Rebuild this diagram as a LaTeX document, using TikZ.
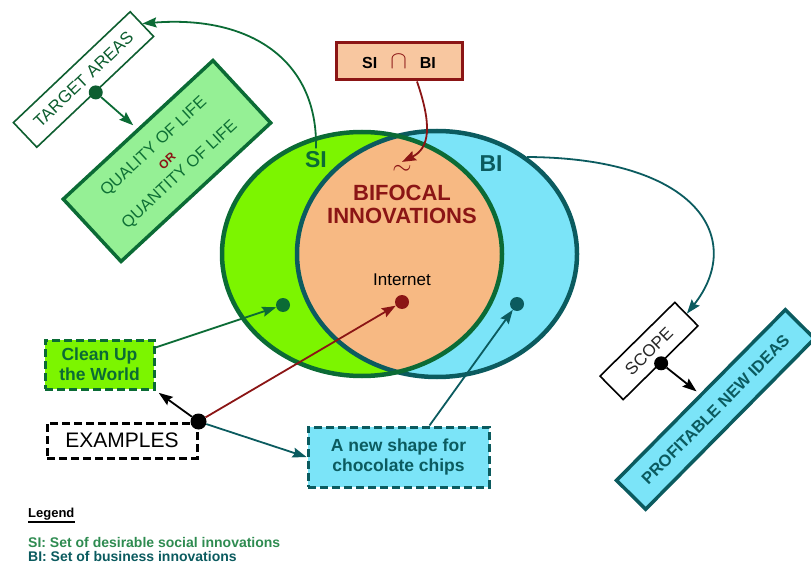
\documentclass[tikz,border=0pt]{standalone}
\usepackage{fontspec}
\setmainfont{Liberation Sans}
\usepackage{xcolor}
\usepackage{tikz}
\usetikzlibrary{shapes}
\usetikzlibrary{arrows,arrows.meta}
\definecolor{sigreen}{HTML}{7CF500}
\definecolor{sidark}{HTML}{0B6B35}
\definecolor{bicyan}{HTML}{7BE4F8}
\definecolor{bidark}{HTML}{0B5B5F}
\definecolor{bifocal}{HTML}{F7B983}
\definecolor{darkred}{HTML}{8B1515}
\definecolor{capfill}{HTML}{F8C7A0}
\definecolor{qualfill}{HTML}{95F095}
\definecolor{qualtext}{HTML}{0E7035}
\definecolor{tagdark}{HTML}{0E5E30}
\definecolor{legsi}{HTML}{2E8B50}
\tikzset{
	set line/.style={line width=4.5pt},
	dot node/.style={circle,inner sep=0pt,minimum size=14pt},
	tag box/.style={draw,fill=white,line width=1.6pt,inner sep=0pt,font=\fontsize{17}{17}\selectfont},
	idea box/.style={line width=3.5pt,inner sep=0pt,align=center},
	example box/.style={line width=3pt,dash pattern=on 8pt off 4pt,inner sep=0pt,align=center,
		font=\bfseries\fontsize{17.5}{20}\selectfont},
	link/.style={->,line width=1.8pt},
	legend font/.style={anchor=base west,inner sep=0pt,font=\bfseries\fontsize{14}{16}\selectfont}
}

\begin{document}
\begin{tikzpicture}[x=1pt,y=-1pt,>={Stealth[length=14pt,width=10pt,inset=2pt]}]
	\useasboundingbox (0,0) rectangle (811,564);
	% the two sets
	\fill[sigreen] (362,254) ellipse [x radius=140pt, y radius=122pt];
	\fill[bicyan] (437,254) ellipse [x radius=140pt, y radius=123pt];
	\begin{scope}
		\clip (362,254) ellipse [x radius=140pt, y radius=122pt];
		\fill[bifocal] (437,254) ellipse [x radius=140pt, y radius=123pt];
	\end{scope}
	\draw[set line,bidark] (437,254) ellipse [x radius=140pt, y radius=123pt];
	\draw[set line,sidark] (362,254) ellipse [x radius=140pt, y radius=122pt];
	\coordinate (bitop) at (527,157);

	\node[text=sidark,font=\bfseries\fontsize{23}{23}\selectfont] (silabel) at (316,160) {SI};
	\node[text=bidark,font=\bfseries\fontsize{23}{23}\selectfont] (bilabel) at (491,164) {BI};
	\node[text=darkred,font=\fontsize{28}{28}\selectfont] (tilde) at (402,170) {$\sim$};
	\node[text=darkred,align=center,font=\bfseries\fontsize{22}{23}\selectfont] (bifocal) at (402,204) {BIFOCAL\\INNOVATIONS};
	\node[anchor=base,font=\fontsize{17}{17}\selectfont] (internet) at (402,285) {Internet};

	\node[dot node,fill=sidark] (sidot) at (283,305) {};
	\node[dot node,fill=darkred] (netdot) at (402,302) {};
	\node[dot node,fill=bidark] (bidot) at (517,304) {};

	\node[draw=darkred,fill=capfill,line width=3pt,minimum width=126pt,minimum height=37pt,inner sep=0pt,
		font=\bfseries\fontsize{16}{16}\selectfont] (capbox) at (399,61.5)
		{SI\hspace{13pt}{\color{darkred}\fontsize{28}{28}\selectfont$\cap$}\hspace{13pt}BI};

	% target areas and scope
	\node[tag box,draw=tagdark,text=tagdark,minimum width=161pt,minimum height=34pt,rotate=43.5] (target) at (83.5,79.5) {TARGET AREAS};
	\node[idea box,draw=sidark,fill=qualfill,text=qualtext,minimum width=204pt,minimum height=85pt,rotate=42.8,
		font=\fontsize{16.5}{19}\selectfont] (quality) at (167,161)
		{QUALITY OF LIFE\\{\color{darkred}\bfseries\fontsize{12}{12}\selectfont OR}\\QUANTITY OF LIFE};
	\node[dot node,fill=tagdark] (targetdot) at (target.south) {};

	\node[tag box,draw=black,text=black!85,minimum width=105pt,minimum height=33pt,rotate=44.6] (scope) at (649,351) {SCOPE};
	\node[idea box,draw=bidark,fill=bicyan,text=bidark,minimum width=240pt,minimum height=41pt,rotate=45.3,
		font=\bfseries\fontsize{16.5}{19}\selectfont] (profit) at (715.5,409.5) {PROFITABLE NEW IDEAS};
	\node[dot node,fill=black] (scopedot) at (scope.south) {};

	% examples
	\node[example box,draw=sidark,fill=sigreen,text=sidark,minimum width=109pt,minimum height=49pt] (clean) at (99.5,364.5) {Clean Up\\the World};
	\node[example box,draw=black,fill=white,font=\fontsize{21}{21}\selectfont,minimum width=150pt,minimum height=35pt] (examples) at (122,440.5) {EXAMPLES};
	\node[example box,draw=bidark,fill=bicyan,text=bidark,minimum width=181pt,minimum height=60pt] (choc) at (398.5,457) {A new shape for\\chocolate chips};
	\node[dot node,fill=black,minimum size=16pt] (exdot) at (examples.north east) {};

	\draw[link,sidark] ([yshift=-9pt]clean.north east) -- (sidot);
	\draw[link,black,shorten >=4pt] (exdot) -- (clean.south east);
	\draw[link,darkred] (exdot) -- (netdot);
	\draw[link,bidark] (exdot) -- (choc.west);
	\draw[link,bidark] ([xshift=31pt]choc.north) -- (bidot);

	\draw[link,sidark] (silabel.north) .. controls (318,60) and (250,15) .. (target.east);
	\draw[link,sidark,shorten >=5pt] (targetdot) -- (quality.north);
	\draw[link,darkred] ([xshift=18pt]capbox.south) .. controls (432,125) and (430,148) .. (tilde.north);
	\draw[link,bidark] (bitop) .. controls (700,158) and (745,240) .. (scope.east);
	\draw[link,black,shorten >=4pt] (scopedot) -- (profit.north);

	% legend
	\node[legend font,font=\bfseries\fontsize{13}{13}\selectfont] (legend) at (28,517) {Legend};
	\draw[line width=1.2pt] ([yshift=-5pt]legend.base west) -- ([yshift=-5pt]legend.base east);
	\node[legend font,text=legsi] (silegend) at (28,547) {SI: Set of desirable social innovations};
	\node[legend font,text=bidark] (bilegend) at (28,561) {BI: Set of business innovations};
\end{tikzpicture}
\end{document}
